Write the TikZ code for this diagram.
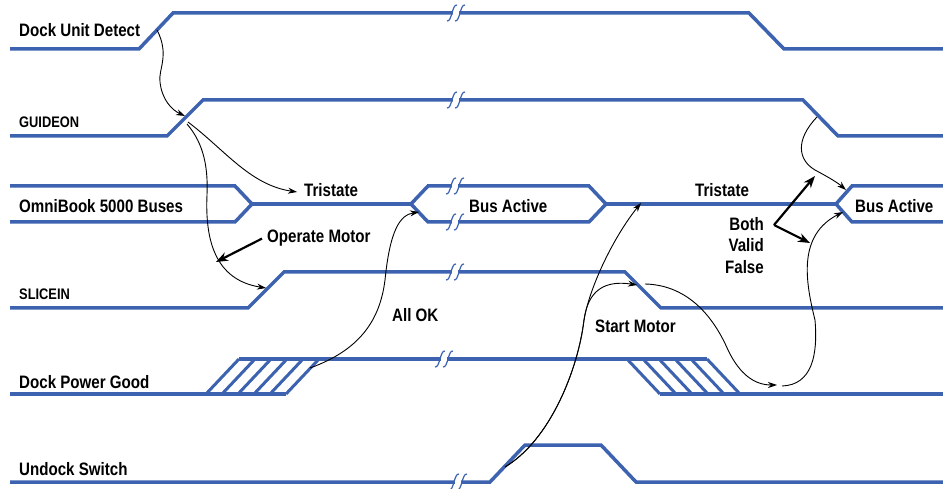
\documentclass[tikz,border=0pt]{standalone}
\usepackage{fontspec}
\newfontfamily\labfont{Liberation Sans}[FakeStretch=0.84]
\usetikzlibrary{arrows.meta}
\definecolor{sig}{RGB}{60,98,176}
\tikzset{
  wave/.style={draw=sig, line width=3.5pt, line join=miter},
  hatchline/.style={draw=sig, line width=3pt},
  brk/.style={draw=sig, line width=1.2pt},
  conn/.style={draw=black, line width=0.9pt, -{Stealth[length=9pt,width=6pt]}},
  bigarrow/.style={draw=black, line width=2.2pt, -{Stealth[length=12pt,width=9pt]}},
  lab/.style={font=\labfont\bfseries\fontsize{18}{21}\selectfont, inner sep=0pt, anchor=base west, text=black},
  slab/.style={lab, font=\labfont\bfseries\fontsize{15.3}{18}\selectfont},
}
\newcommand\wbreak[2]{%
  \fill[white] ({#1-3},{#2-2.5}) rectangle ({#1+3},{#2+2.5});
  \draw[brk] ({#1-9},{#2+8}) .. controls ({#1-4},{#2+9}) and ({#1-4},{#2-9}) .. ({#1+1},{#2-8});
  \draw[brk] ({#1-1},{#2+8}) .. controls ({#1+4},{#2+9}) and ({#1+4},{#2-9}) .. ({#1+9},{#2-8});
}
\begin{document}
\begin{tikzpicture}[x=1pt,y=-1pt]
\useasboundingbox (0,0) rectangle (943,489);

% ---------------- waveforms ----------------
% Dock Unit Detect
\draw[wave] (10,49) -- (139,49) -- (173,13) -- (749,13) -- (784,49) -- (943,49);
% GUIDEON
\draw[wave] (10,136) -- (167,136) -- (203,100) -- (803,100) -- (838,136) -- (943,136);
% OmniBook 5000 Buses
\draw[wave] (10,186) -- (235,186) -- (252,204) -- (235,222) -- (10,222);
\draw[wave] (252,204) -- (411,204);
\draw[wave] (411,204) -- (428,186) -- (589,186) -- (606,204) -- (589,222) -- (428,222) -- cycle;
\draw[wave] (606,204) -- (836,204);
\draw[wave] (943,186) -- (852,186) -- (836,204) -- (852,222) -- (943,222);
% SLICEIN
\draw[wave] (10,308) -- (248,308) -- (284,272) -- (625,272) -- (661,308) -- (943,308);
% Dock Power Good
\draw[wave] (10,394) -- (286,394);
\draw[wave] (239,359) -- (707,359);
\draw[wave] (660,394) -- (943,394);
\foreach \k in {0,...,5} {
  \draw[hatchline] ({206+16*\k},394) -- ({239+16*\k},359);
  \draw[hatchline] ({627+16*\k},359) -- ({660+16*\k},394);
}
% Undock Switch
\draw[wave] (10,482) -- (490,482) -- (525,445) -- (601,445) -- (636,482) -- (943,482);

% breaks
\wbreak{456}{13}
\wbreak{456}{100}
\wbreak{455}{186}
\wbreak{455}{222}
\wbreak{455}{272}
\wbreak{444}{359}
\wbreak{458}{482}

% ---------------- labels ----------------
\node[lab] (lDUD) at (19,37) {Dock Unit Detect};
\node[slab] (lGUI) at (19,128) {GUIDEON};
\node[lab] (lOMNI) at (19,213) {OmniBook 5000 Buses};
\node[slab] (lSLI) at (19,300) {SLICEIN};
\node[lab] (lDPG) at (19,388) {Dock Power Good};
\node[lab] (lUND) at (19,475) {Undock Switch};
\node[lab] (tri1) at (304,197) {Tristate};
\node[lab] (ba1) at (469,213) {Bus Active};
\node[lab] (opm) at (267,243) {Operate Motor};
\node[lab] (aok) at (392,321) {All OK};
\node[lab] (stm) at (595,332) {Start Motor};
\node[lab] (tri2) at (695,197) {Tristate};
\node[lab] (ba2) at (855,213) {Bus Active};
\node[lab, anchor=base east] (both) at (764,231) {Both};
\node[lab, anchor=base east] (valid) at (764,252) {Valid};
\node[lab, anchor=base east] (false) at (764,273) {False};

% ---------------- connector end points ----------------
\coordinate (dudR) at (157,30);
\coordinate (guiR) at (185,116);
\coordinate (guiA) at (188,122);
\coordinate (guiB) at (187,124);
\coordinate (triA) at (297,192);
\coordinate (sliR) at (266,288);
\coordinate (omTip) at (216,262);
\coordinate (dpgR) at (310,368);
\coordinate (busL) at (419,212);
\coordinate (undR) at (505,467);
\coordinate (sliF) at (637,285);
\coordinate (triB) at (641,203);
\coordinate (sliF2) at (645,284);
\coordinate (dpgF) at (777,385);
\coordinate (dpgF2) at (782,386);
\coordinate (busRlo) at (843,212);
\coordinate (guiF) at (817,117);
\coordinate (busRup) at (846,190);
\coordinate (bv) at (774,225);
\coordinate (bvUp) at (815,176);
\coordinate (bvDn) at (810,243);

% ---------------- connectors ----------------
\draw[conn] (dudR) .. controls (170,55) and (158,70) .. (160,82)
                   .. controls (162,100) and (172,110) .. (guiR);
\draw[conn] (guiA) .. controls (225,150) and (250,185) .. (triA);
\draw[conn] (guiB) .. controls (205,145) and (208,170) .. (207,195)
                   .. controls (205,240) and (215,280) .. (sliR);
\draw[bigarrow] ([xshift=-5pt]opm.west) -- (omTip);
\draw[conn] (dpgR) .. controls (360,350) and (380,320) .. (385,280)
                   .. controls (390,230) and (400,215) .. (busL);
\draw[conn] (undR) .. controls (550,440) and (578,370) .. (584,320)
                   .. controls (588,290) and (605,280) .. (sliF);
\draw[conn] (undR) .. controls (550,440) and (578,370) .. (584,320)
                   .. controls (590,285) and (615,235) .. (triB);
\draw[conn] (sliF2) .. controls (690,285) and (715,320) .. (728,350)
                    .. controls (740,375) and (755,385) .. (dpgF);
\draw[conn] (dpgF2) .. controls (812,385) and (818,355) .. (815,320)
                    .. controls (805,280) and (798,235) .. (busRlo);
\draw[conn] (guiF) .. controls (795,140) and (798,160) .. (815,170)
                   .. controls (830,178) and (838,183) .. (busRup);
\draw[bigarrow] (bv) -- (bvUp);
\draw[bigarrow] (bv) -- (bvDn);
\end{tikzpicture}
\end{document}
